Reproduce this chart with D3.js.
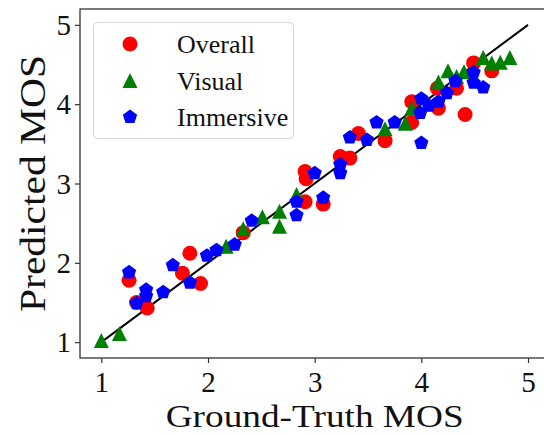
<!DOCTYPE html>
<html lang="en">
<head>
  <meta charset="UTF-8">
  <title>Predicted vs Ground-Truth MOS</title>
  <script src="https://d3js.org/d3.v7.min.js"></script>
  <style>
    html, body {
      margin: 0;
      padding: 0;
      background: #fff;
      overflow: hidden;
    }
    text {
      font-family: "Liberation Serif", "Times New Roman", serif;
      fill: #111;
    }
  </style>
</head>
<body>
  <svg id="chart" width="544" height="435"></svg>
  <script>
    // values
    const overallX = [1.26, 1.33, 1.43, 1.76, 1.83, 1.93, 2.33, 2.91, 2.91, 2.92, 3.08, 3.24, 3.33, 3.41, 3.66, 3.91, 3.91, 4.16, 4.15, 4.33, 4.41, 4.49, 4.66];
    const overallY = [1.78, 1.50, 1.43, 1.87, 2.12, 1.74, 2.38, 2.77, 3.15, 3.06, 2.74, 3.34, 3.32, 3.63, 3.54, 3.77, 4.03, 3.95, 4.20, 4.20, 3.87, 4.52, 4.42];

    const visualX = [1.00, 1.17, 2.17, 2.33, 2.51, 2.67, 2.67, 2.83, 3.66, 3.85, 3.91, 4.16, 4.25, 4.33, 4.40, 4.58, 4.66, 4.74, 4.83];
    const visualY = [1.02, 1.11, 2.21, 2.43, 2.58, 2.65, 2.46, 2.86, 3.69, 3.76, 3.95, 4.28, 4.42, 4.35, 4.41, 4.59, 4.52, 4.53, 4.59];

    const immersiveX = [1.26, 1.33, 1.42, 1.42, 1.58, 1.67, 1.83, 1.99, 2.08, 2.25, 2.41, 2.83, 2.83, 3.00, 3.08, 3.24, 3.24, 3.33, 3.49, 3.58, 3.75, 4.00, 3.99, 4.00, 4.07, 4.16, 4.24, 4.32, 4.49, 4.49, 4.58];
    const immersiveY = [1.88, 1.49, 1.66, 1.58, 1.63, 1.97, 1.75, 2.09, 2.16, 2.23, 2.53, 2.77, 2.60, 3.13, 2.82, 3.24, 3.13, 3.58, 3.55, 3.77, 3.77, 3.51, 3.89, 4.07, 3.98, 4.03, 4.14, 4.29, 4.40, 4.27, 4.21];

    const seriesNames = ['Overall', 'Visual', 'Immersive'];
    const xTicks = [1, 2, 3, 4, 5];
    const yTicks = [1, 2, 3, 4, 5];
    const diagonal = [1, 5];

    const svg = d3.select('#chart');
    const margin = {left: 80, top: 9, bottom: 358};

    const x = d3.scaleLinear().domain([0.8, 5.2]).range([margin.left, margin.left + 4.4 * 106.67]);
    const y = d3.scaleLinear().domain([0.8, 5.2]).range([margin.bottom, margin.top]);

    // marker shapes, matplotlib style: o, ^, p (size = full width)
    const ms = 15;
    function markerPath(kind, cx, cy) {
      const p = d3.path();
      const h = ms / 2;
      if (kind === 'circle') {
        p.arc(cx, cy, h, 0, 2 * Math.PI);
      } else if (kind === 'triangle') {
        p.moveTo(cx, cy - h);
        p.lineTo(cx - h, cy + h);
        p.lineTo(cx + h, cy + h);
      } else {
        for (let k = 0; k < 5; k++) {
          const a = -Math.PI / 2 + k * 2 * Math.PI / 5;
          const px = cx + h * Math.cos(a), py = cy + h * Math.sin(a);
          if (k === 0) p.moveTo(px, py); else p.lineTo(px, py);
        }
      }
      p.closePath();
      return p.toString();
    }

    const series = [
      {name: seriesNames[0], xs: overallX, ys: overallY, color: '#ff0000', kind: 'circle'},
      {name: seriesNames[1], xs: visualX, ys: visualY, color: '#008000', kind: 'triangle'},
      {name: seriesNames[2], xs: immersiveX, ys: immersiveY, color: '#0000ff', kind: 'pentagon'}
    ];

    const plotW = x.range()[1] - margin.left;
    svg.append('clipPath').attr('id', 'clip')
      .append('rect')
      .attr('x', margin.left).attr('y', margin.top)
      .attr('width', plotW).attr('height', margin.bottom - margin.top);

    const plot = svg.append('g').attr('clip-path', 'url(#clip)');

    // identity line
    plot.append('line')
      .attr('x1', x(diagonal[0])).attr('y1', y(diagonal[0]))
      .attr('x2', x(diagonal[1])).attr('y2', y(diagonal[1]))
      .attr('stroke', '#000')
      .attr('stroke-width', 2);

    series.forEach(s => {
      plot.append('g')
        .selectAll('path')
        .data(s.xs.map((v, i) => [v, s.ys[i]]))
        .join('path')
        .attr('d', d => markerPath(s.kind, x(d[0]), y(d[1])))
        .attr('fill', s.color);
    });

    // axes
    const xAxis = svg.append('g')
      .attr('transform', `translate(0,${margin.bottom})`)
      .call(d3.axisBottom(x).tickValues(xTicks).tickSize(5).tickPadding(8).tickFormat(d3.format('d')));
    const yAxis = svg.append('g')
      .attr('transform', `translate(${margin.left},0)`)
      .call(d3.axisLeft(y).tickValues(yTicks).tickSize(5).tickPadding(4).tickFormat(d3.format('d')));

    [xAxis, yAxis].forEach(a => {
      a.select('.domain').remove();
      a.selectAll('.tick line').attr('stroke', '#333').attr('stroke-width', 1.2);
      a.selectAll('.tick text').style('font-size', '29px').attr('fill', '#111');
    });
    xAxis.selectAll('.tick text').attr('dy', '0.71em');
    yAxis.selectAll('.tick text').attr('dy', '0.33em');

    // frame
    svg.append('rect')
      .attr('x', margin.left).attr('y', margin.top)
      .attr('width', plotW).attr('height', margin.bottom - margin.top)
      .attr('fill', 'none')
      .attr('stroke', '#333')
      .attr('stroke-width', 1.3);

    // axis labels
    svg.append('text')
      .attr('x', (margin.left + x.range()[1]) / 2)
      .attr('y', 427)
      .attr('text-anchor', 'middle')
      .style('font-size', '32px')
      .attr('textLength', 298)
      .attr('lengthAdjust', 'spacingAndGlyphs')
      .text('Ground-Truth MOS');

    svg.append('text')
      .attr('transform', `translate(45,${(margin.top + margin.bottom) / 2}) rotate(-90)`)
      .attr('text-anchor', 'middle')
      .style('font-size', '35px')
      .attr('textLength', 257)
      .attr('lengthAdjust', 'spacingAndGlyphs')
      .text('Predicted MOS');

    // legend
    const legend = svg.append('g');
    legend.append('rect')
      .attr('x', 93.5).attr('y', 22.5)
      .attr('width', 200).attr('height', 116)
      .attr('rx', 4)
      .attr('fill', '#fff')
      .attr('fill-opacity', 0.8)
      .attr('stroke', '#d5d5d5')
      .attr('stroke-width', 1);

    const rowY = d3.scalePoint().domain(seriesNames).range([44, 117]);
    series.forEach(s => {
      legend.append('path')
        .attr('d', markerPath(s.kind, 130, rowY(s.name)))
        .attr('fill', s.color);
      legend.append('text')
        .attr('x', 177)
        .attr('y', rowY(s.name) + 9)
        .style('font-size', '26px')
        .text(s.name);
    });
  </script>
</body>
</html>
